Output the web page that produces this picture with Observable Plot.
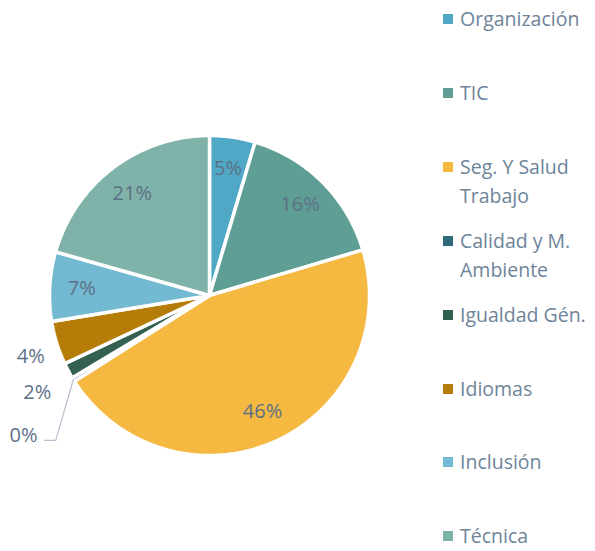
<!DOCTYPE html>
<html>
<head>
<meta charset="utf-8">
<script src="https://cdn.jsdelivr.net/npm/d3@7"></script>
<script src="https://cdn.jsdelivr.net/npm/@observablehq/plot@0.6"></script>
<style>
  html, body { margin: 0; padding: 0; background: #fff; overflow: hidden; }
  #wrap { position: relative; width: 595px; height: 551px; font-family: "Open Sans", Lato, sans-serif; overflow: hidden; }
  #chart { position: absolute; left: 0; top: 0; }
  .leg { position: absolute; left: 443px; font-size: 19.5px; color: #6d8499; line-height: 20px; }
  .leg .sw { position: absolute; left: 0; top: 5px; width: 10px; height: 10px; }
  .leg .tx { position: absolute; left: 17px; white-space: nowrap; }
</style>
</head>
<body>
<div id="wrap"><div id="chart"></div></div>
<script>
const categories = ["Organización", "TIC", "Seg. Y Salud Trabajo", "Calidad y M. Ambiente", "Igualdad Gén.", "Idiomas", "Inclusión", "Técnica"];
const legendLines = [["Organización"], ["TIC"], ["Seg. Y Salud", "Trabajo"], ["Calidad y M.", "Ambiente"], ["Igualdad Gén."], ["Idiomas"], ["Inclusión"], ["Técnica"]];
const values = [4.6, 15.8, 45.6, 0.4, 1.6, 4.4, 7.0, 20.6];
const colors = ["#4fa8c5", "#5e9e94", "#f5b841", "#2e6a7a", "#33604f", "#b57c08", "#72b9d1", "#7fb3a9"];

const total = d3.sum(values);
const arcs = d3.pie().sort(null).value(d => d)(values);

// slice outlines in unit-circle coordinates (y up), angles clockwise from top
const pts = [];
arcs.forEach((a, i) => {
  const cat = categories[i];
  pts.push({cat, x: 0, y: 0});
  const n = Math.max(2, Math.ceil((a.endAngle - a.startAngle) / 0.01));
  for (let k = 0; k <= n; k++) {
    const t = a.startAngle + (a.endAngle - a.startAngle) * k / n;
    pts.push({cat, x: Math.sin(t), y: Math.cos(t)});
  }
});

const labels = arcs.map((a, i) => {
  const pct = Math.round(values[i] / total * 100);
  const mid = (a.startAngle + a.endAngle) / 2;
  const outside = values[i] / total * 100 < 4.5;
  const r = outside ? (pct >= 3 ? 1.17 : 1.22) : 0.8;
  return {cat: categories[i], text: pct + "%", pct, mid, outside, x: Math.sin(mid) * r, y: Math.cos(mid) * r};
});
const inside = labels.filter(d => !d.outside);
const outsideL = labels.filter(d => d.outside && d.pct > 0);
const zeroL = labels.filter(d => d.outside && d.pct === 0);

// leader line for 0% labels: from slice edge down-left to an elbow, then short horizontal
const leader = [];
const zeroText = [];
zeroL.forEach(d => {
  const x0 = Math.sin(d.mid), y0 = Math.cos(d.mid);
  const ex = x0 - 0.11, ey = y0 - 0.38;
  leader.push({cat: d.cat, x: x0, y: y0}, {cat: d.cat, x: ex, y: ey}, {cat: d.cat, x: ex - 0.07, y: ey});
  zeroText.push({text: d.text, x: ex - 0.07, y: ey});
});

const font = "'Open Sans', Lato, sans-serif";
const chart = Plot.plot({
  width: 430,
  height: 551,
  margin: 0,
  x: {domain: [-1, 1], range: [49, 369], axis: null},
  y: {domain: [-1, 1], range: [455, 135], axis: null},
  color: {domain: categories, range: colors},
  marks: [
    Plot.line(pts, {x: "x", y: "y", z: "cat", fill: "cat", stroke: "white", strokeWidth: 3.5, strokeLinejoin: "miter", curve: "linear-closed"}),
    Plot.line(leader, {x: "x", y: "y", z: "cat", stroke: "#b4c0cc", strokeWidth: 1.2}),
    Plot.text(inside, {x: "x", y: "y", text: "text", fontSize: 20, fill: "#5d7186", fontFamily: font}),
    Plot.text(outsideL, {x: "x", y: "y", text: "text", fontSize: 20, fill: "#5d7186", dy: 5, fontFamily: font}),
    Plot.text(zeroText, {x: "x", y: "y", text: "text", fontSize: 20, fill: "#5d7186", textAnchor: "end", dx: -7, dy: -5, fontFamily: font})
  ]
});
document.getElementById("chart").appendChild(chart);

// legend
const wrap = document.getElementById("wrap");
categories.forEach((c, i) => {
  const div = document.createElement("div");
  div.className = "leg";
  div.style.top = (9 + i * 73.9) + "px";
  const sw = document.createElement("span");
  sw.className = "sw";
  sw.style.background = colors[i];
  div.appendChild(sw);
  legendLines[i].forEach((line, j) => {
    const tx = document.createElement("span");
    tx.className = "tx";
    tx.style.top = (j * 29) + "px";
    tx.textContent = line;
    div.appendChild(tx);
  });
  wrap.appendChild(div);
});
</script>
</body>
</html>
